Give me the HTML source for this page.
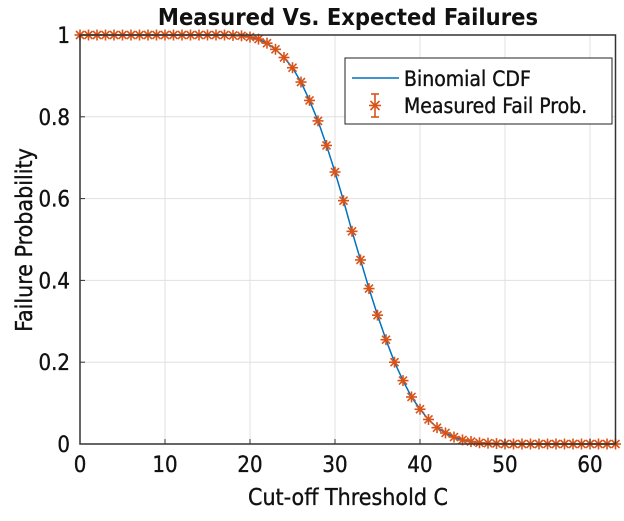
<!DOCTYPE html>
<html><head><meta charset="utf-8"><style>
body{margin:0;background:#fff;}
svg text{font-family:"DejaVu Sans Condensed","DejaVu Sans","Liberation Sans",sans-serif;fill:#111;stroke:#111;stroke-width:0.35;}
</style></head><body>
<svg width="624" height="516" viewBox="0 0 624 516">
<g id="grid"></g>
<g id="series"></g>
<g id="axes"></g>
<text x="348" y="25" text-anchor="middle" font-size="23.5" font-weight="bold" style="stroke-width:0">Measured Vs. Expected Failures</text>
<text x="348" y="505" text-anchor="middle" font-size="23">Cut-off Threshold C</text>
<text transform="translate(32,240) rotate(-90)" text-anchor="middle" font-size="23">Failure Probability</text>
<g>
<rect x="345" y="58" width="267" height="66" fill="#fff" stroke="#222" stroke-width="1"/>
<line x1="352" y1="78" x2="399" y2="78" stroke="#0072BD" stroke-width="1.5"/>
<text x="404" y="86" font-size="21">Binomial  CDF</text>
<g stroke="#D95319" stroke-width="1.6">
<line x1="375" y1="94" x2="375" y2="117"/><line x1="371" y1="94" x2="379" y2="94"/><line x1="371" y1="117" x2="379" y2="117"/>
<line x1="369" y1="105.5" x2="381" y2="105.5"/><line x1="370.5" y1="101" x2="379.5" y2="110"/><line x1="370.5" y1="110" x2="379.5" y2="101"/>
</g>
<text x="404" y="113" font-size="21">Measured Fail Prob.</text>
</g>
</svg>
<script>
const thresholds=[];for(let i=0;i<=63;i++)thresholds.push(i);
const cdfValues=[1,1,1,1,1,1,1,1,1,1,1,1,1,1,1,1,1,1,0.999,0.998,0.995,0.99,0.98,0.965,0.945,0.92,0.885,0.84,0.79,0.73,0.665,0.595,0.52,0.45,0.38,0.315,0.255,0.2,0.155,0.115,0.085,0.06,0.04,0.027,0.017,0.01,0.006,0.003,0.002,0.001,0,0,0,0,0,0,0,0,0,0,0,0,0,0];
const measuredValues=[1,1,1,1,1,1,1,1,1,1,1,1,1,1,1,1,1,1,0.999,0.998,0.995,0.99,0.98,0.965,0.945,0.92,0.885,0.84,0.79,0.73,0.665,0.595,0.52,0.45,0.38,0.315,0.255,0.2,0.155,0.115,0.085,0.06,0.04,0.027,0.017,0.01,0.006,0.003,0.002,0.001,0,0,0,0,0,0,0,0,0,0,0,0,0,0];
const xTicks=[0,10,20,30,40,50,60];
const yTicks=[0,0.2,0.4,0.6,0.8,1];
const yTickLabels=["0","0.2","0.4","0.6","0.8","1"];
const X0=80,X1=615.5,Y0=444,Y1=35,XMAX=63;
const sx=v=>X0+(X1-X0)*v/XMAX, sy=v=>Y0-(Y0-Y1)*v;
const NS="http://www.w3.org/2000/svg";
function mk(t,a,p){const e=document.createElementNS(NS,t);for(const k in a)e.setAttribute(k,a[k]);p.appendChild(e);return e;}
const grid=document.getElementById('grid'),axes=document.getElementById('axes'),ser=document.getElementById('series');
xTicks.forEach(v=>{
 const g=mk('line',{x1:sx(v),x2:sx(v),y1:Y1,y2:Y0,stroke:'#e0e0e0','stroke-width':1},grid);
 
 
 const t=mk('text',{x:sx(v),y:Y0+28,'text-anchor':'middle','font-size':22},axes);t.textContent=v;
 
 
 mk('line',{x1:sx(v),x2:sx(v),y1:Y0,y2:Y0-5,stroke:'#333'},axes);
});
yTicks.forEach((v,i)=>{
 const g=mk('line',{x1:X0,x2:X1,y1:sy(v),y2:sy(v),stroke:'#e0e0e0','stroke-width':1},grid);
 
 
 const t=mk('text',{x:X0-10,y:sy(v)+8,'text-anchor':'end','font-size':22},axes);t.textContent=yTickLabels[i];
 
 
 mk('line',{x1:X0,x2:X0+5,y1:sy(v),y2:sy(v),stroke:'#333'},axes);
});
const box=mk('rect',{x:X0,y:Y1,width:X1-X0,height:Y0-Y1,fill:'none',stroke:'#333','stroke-width':1.5},axes);


const line=mk('polyline',{points:thresholds.map((c,i)=>sx(c)+','+sy(cdfValues[i])).join(' '),fill:'none',stroke:'#0072BD','stroke-width':1.5},ser);


thresholds.forEach((c,i)=>{
 const x=sx(c),y=sy(measuredValues[i]),r=5.5,d=4;
 const g=mk('g',{stroke:'#D95319','stroke-width':1.6},ser);
 
 
 mk('line',{x1:x-r,x2:x+r,y1:y,y2:y},g);
 mk('line',{x1:x,x2:x,y1:y-r,y2:y+r},g);
 mk('line',{x1:x-d,x2:x+d,y1:y-d,y2:y+d},g);
 mk('line',{x1:x-d,x2:x+d,y1:y+d,y2:y-d},g);
});
</script>
</body></html>
